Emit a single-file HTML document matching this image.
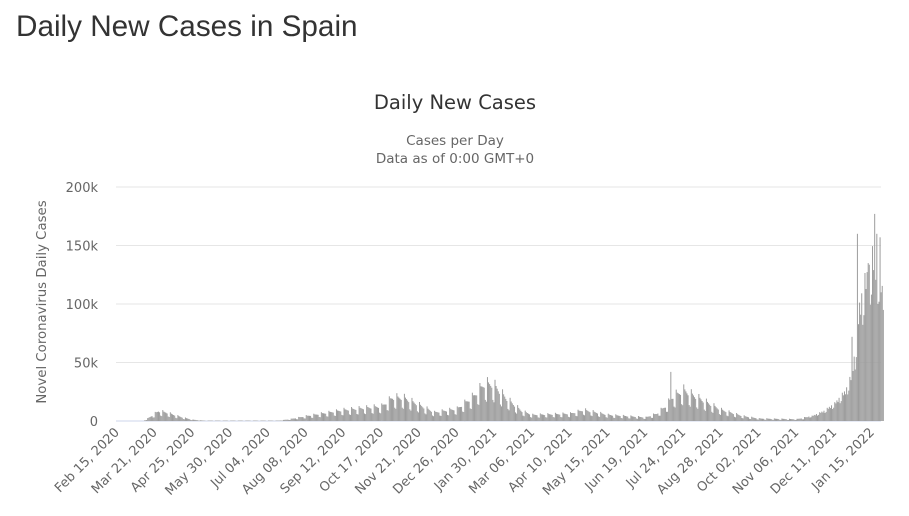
<!DOCTYPE html>
<html><head><meta charset="utf-8"><style>
body{margin:0;background:#fff;width:909px;height:516px;overflow:hidden;font-family:"Liberation Sans",sans-serif}
h1{position:absolute;left:16px;top:10px;margin:0;font-weight:normal;font-size:29.7px;color:#333}
</style></head><body>
<h1>Daily New Cases in Spain</h1>
<svg id="s" width="909" height="516" style="position:absolute;left:0;top:0" font-family="DejaVu Sans, sans-serif">
<text x="455" y="109" text-anchor="middle" font-size="19.5" fill="#333">Daily New Cases</text>
<text x="455" y="145" text-anchor="middle" font-size="13.5" fill="#666">Cases per Day</text>
<text x="455" y="163" text-anchor="middle" font-size="13.5" fill="#666">Data as of 0:00 GMT+0</text>
<text transform="translate(46,302) rotate(-90)" text-anchor="middle" font-size="13.3" fill="#666">Novel Coronavirus Daily Cases</text>
<g id="g"></g>
</svg>
<script>
var g=document.getElementById('g'),h='';
var y0=421,k=1.17;
[0,50,100,150,200].forEach(function(v,i){var y=y0-v*k;
h+='<line x1="116" x2="881" y1="'+y+'" y2="'+y+'" stroke="'+(i?'#e6e6e6':'#ccd6eb')+'"/>';
h+='<text x="98" y="'+(y+5)+'" text-anchor="end" font-size="13" fill="#666">'+(v?v+'k':'0')+'</text>';});
var pts=[[0,0],[24,0],[28,2],[38,8],[45,7],[60,3],[70,1],[80,.3],[150,.3],[160,1.5],[175,4],[210,9],[245,12],[255,19],[265,19],[280,13],[294,7],[315,10],[330,20],[340,30],[348,30],[361,18],[375,8],[385,5],[420,6],[432,9],[455,5],[490,3],[500,6],[508,12],[515,20],[525,25],[540,18],[560,9],[580,4],[595,2],[630,1.5],[644,4],[655,8],[665,14],[675,24],[680,35],[684,55],[688,92],[693,110],[700,130],[705,125],[710,100]];
function env(d){for(var i=1;i<pts.length;i++)if(d<=pts[i][0]){var a=pts[i-1],b=pts[i];return a[1]+(b[1]-a[1])*(d-a[0])/(b[0]-a[0]);}return 100;}
var sp={513:42,681:72,686:160,696:135,702:177,704:160,707:157};
var px=1.0786,x0=117;
for(var d=0;d<=710;d++){var v=env(d),w=d%7;var f=[1.25,1.1,1.05,1.0,0.95,0.6,0.55][w];
if(d>640)f=[1.15,1.0,1.1,0.95,1.1,0.8,0.85][w];
if(sp[d])v=sp[d];else v*=f;
var hh=v*k;if(hh<0.3)continue;
h+='<rect x="'+(x0+d*px).toFixed(2)+'" y="'+(y0-hh).toFixed(1)+'" width="1" height="'+hh.toFixed(1)+'" fill="#9c9c9c"/>';}
var L=["Feb 15, 2020","Mar 21, 2020","Apr 25, 2020","May 30, 2020","Jul 04, 2020","Aug 08, 2020","Sep 12, 2020","Oct 17, 2020","Nov 21, 2020","Dec 26, 2020","Jan 30, 2021","Mar 06, 2021","Apr 10, 2021","May 15, 2021","Jun 19, 2021","Jul 24, 2021","Aug 28, 2021","Oct 02, 2021","Nov 06, 2021","Dec 11, 2021","Jan 15, 2022"];
L.forEach(function(t,i){var x=x0+i*35*px+3;h+='<text transform="translate('+x.toFixed(1)+',433) rotate(-45)" text-anchor="end" font-size="13" fill="#666">'+t+'</text>';});
g.innerHTML=h;
</script>
</body></html>
